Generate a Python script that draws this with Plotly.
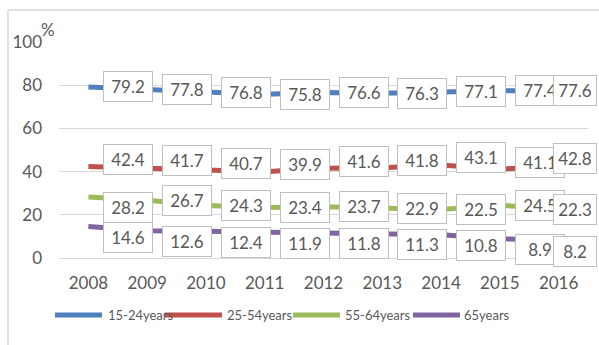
import plotly.graph_objects as go

# Employment rate by age group, 2008-2016 (%)
years = [2008, 2009, 2010, 2011, 2012, 2013, 2014, 2015, 2016]
age_15_24 = [79.2, 77.8, 76.8, 75.8, 76.6, 76.3, 77.1, 77.4, 77.6]
age_25_54 = [42.4, 41.7, 40.7, 39.9, 41.6, 41.8, 43.1, 41.1, 42.8]
age_55_64 = [28.2, 26.7, 24.3, 23.4, 23.7, 22.9, 22.5, 24.5, 22.3]
age_65 = [14.6, 12.6, 12.4, 11.9, 11.8, 11.3, 10.8, 8.9, 8.2]
series_names = ["15-24years", "25-54years", "55-64years", "65years"]
y_ticks = [0, 20, 40, 60, 80, 100]

series = [age_15_24, age_25_54, age_55_64, age_65]
colors = ["#4F81BD", "#C0504D", "#9BBB59", "#8064A2"]
# vertical nudge (px) of each series' value labels so the boxes do not collide
label_nudge = [0, 7, 0, -11]
label_nudge_extra = {(2, 0): -10}

FONT = "Lato, Liberation Sans, sans-serif"
TXT = "#595959"
GRID = "#D9D9D9"

W, H = 599, 345
ML, MR, MT, MB = 59, 11, 42, 87
PW, PH = W - ML - MR, H - MT - MB


def px_x(x):
    return (x - ML) / PW


def px_y(y):
    return (H - MB - y) / PH


fig = go.Figure()
for name, vals, col in zip(series_names, series, colors):
    fig.add_trace(go.Scatter(
        x=years, y=vals, name=name, mode="lines",
        line=dict(color=col, width=5),
        showlegend=False, hoverinfo="skip",
    ))

annotations = []
for si, vals in enumerate(series):
    for pi, (yr, v) in enumerate(zip(years, vals)):
        last = pi == len(years) - 1
        annotations.append(dict(
            x=yr, y=v, xref="x", yref="y", text=f"{v:.1f}", showarrow=False,
            xanchor="right" if last else "center", yanchor="middle",
            xshift=38 if last else 40,
            yshift=label_nudge[si] + label_nudge_extra.get((si, pi), 0),
            width=38 if last else 44, height=25, borderpad=2, borderwidth=1,
            bordercolor="#BFBFBF", bgcolor="white",
            font=dict(family=FONT, size=17, color=TXT),
        ))

# "%" unit next to the top tick
annotations.append(dict(
    x=px_x(48), y=px_y(29), xref="paper", yref="paper", text="%",
    showarrow=False, xanchor="center", yanchor="middle",
    font=dict(family=FONT, size=17, color=TXT),
))

# legend drawn as line samples plus labels
shapes = []
legend_pos = [(55, 102, 106), (165, 222, 225), (293, 340, 343), (413, 460, 462)]
for (x0, x1, xt), name, col in zip(legend_pos, series_names, colors):
    shapes.append(dict(
        type="line", xref="paper", yref="paper",
        x0=px_x(x0), x1=px_x(x1), y0=px_y(315), y1=px_y(315),
        line=dict(color=col, width=5),
    ))
    annotations.append(dict(
        x=px_x(xt), y=px_y(315), xref="paper", yref="paper", text=name,
        showarrow=False, xanchor="left", yanchor="middle",
        font=dict(family=FONT, size=13, color=TXT),
    ))

# chart frame (top and left edges)
for (x0, y0, x1, y1) in [(8, 10, 599, 10), (8, 10, 8, 345)]:
    shapes.append(dict(
        type="line", xref="paper", yref="paper",
        x0=px_x(x0), y0=px_y(y0), x1=px_x(x1), y1=px_y(y1),
        line=dict(color=GRID, width=1.5),
    ))

fig.update_layout(
    width=W, height=H,
    margin=dict(l=ML, r=MR, t=MT, b=MB),
    paper_bgcolor="white", plot_bgcolor="white",
    showlegend=False,
    annotations=annotations, shapes=shapes,
    xaxis=dict(
        range=[2007.5, 2016.5], tickvals=years, ticktext=[str(y) for y in years],
        showgrid=False, zeroline=False, showline=False, ticks="",
        tickfont=dict(family=FONT, size=17, color=TXT),
        ticklabelstandoff=13,
    ),
    yaxis=dict(
        range=[0, 100], tickvals=y_ticks, showgrid=True, gridcolor=GRID,
        gridwidth=1, zeroline=True, zerolinecolor=GRID, zerolinewidth=1,
        showline=False, ticks="",
        tickfont=dict(family=FONT, size=17, color=TXT),
        ticklabelstandoff=16,
    ),
)

fig.write_html("out.html")
